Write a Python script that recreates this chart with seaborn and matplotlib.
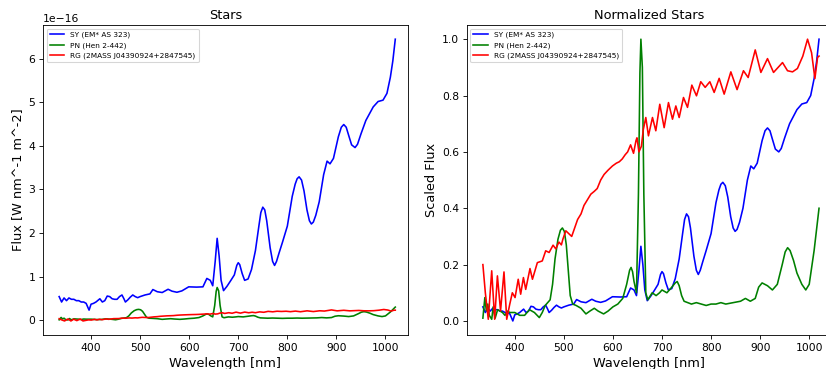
import numpy as np
import pandas as pd
import matplotlib
matplotlib.use("Agg")
import matplotlib.pyplot as plt
import seaborn as sns

# ---------------- data ----------------
labels = ["SY (EM* AS 323)", "PN (Hen 2-442)", "RG (2MASS J04390924+2847545)"]
colors = ["blue", "green", "red"]

# SY: wavelength [nm] and min-max scaled flux
sy_wl = [335, 340, 345, 350, 355, 360, 365, 370, 375, 380, 385, 390, 396, 400, 405, 410,
         418, 423, 428, 433, 438, 443, 448, 453, 458, 463, 467, 470, 475, 480, 485, 490,
         495, 500, 510, 520, 526, 535, 545, 557, 565, 575, 585, 599, 615, 628, 636, 643,
         648, 653, 657, 661, 665, 670, 677, 685, 692, 697, 700, 703, 708, 713, 720, 727, 735, 742,
         746, 750, 754, 758, 765, 770, 774, 778, 783, 790, 800, 810, 816, 820, 824, 829, 834, 840, 845, 849, 853, 858, 865, 874,
         881, 887, 894, 904, 910, 915, 920, 925, 931, 938, 943, 950, 960, 975, 985, 995, 1003, 1010, 1015, 1020]
sy_n = [0.050, 0.030, 0.045, 0.035, 0.045, 0.040, 0.040, 0.035, 0.035, 0.030, 0.030, 0.025, 0.000, 0.022, 0.025, 0.030,
        0.042, 0.030, 0.035, 0.052, 0.050, 0.042, 0.040, 0.040, 0.050, 0.056, 0.042, 0.030, 0.038, 0.048, 0.056, 0.050,
        0.046, 0.050, 0.056, 0.060, 0.076, 0.068, 0.065, 0.077, 0.070, 0.066, 0.071, 0.086, 0.085, 0.086, 0.117, 0.110,
        0.090, 0.180, 0.265, 0.200, 0.110, 0.072, 0.088, 0.110, 0.130, 0.165, 0.175, 0.168, 0.135, 0.110, 0.115, 0.150, 0.220, 0.310,
        0.360, 0.380, 0.370, 0.330, 0.230, 0.180, 0.165, 0.180, 0.210, 0.250, 0.310, 0.420, 0.465, 0.485, 0.492, 0.480, 0.440, 0.370, 0.330, 0.318, 0.325, 0.350, 0.400, 0.500,
        0.550, 0.540, 0.560, 0.640, 0.675, 0.685, 0.675, 0.645, 0.610, 0.600, 0.612, 0.650, 0.700, 0.750, 0.770, 0.775, 0.800, 0.860, 0.920, 1.000]

# PN: wavelength [nm] and min-max scaled flux
pn_wl = [335, 339, 342, 345, 348, 353, 356, 360, 365, 370, 375, 380, 385, 390, 400, 405,
         410, 420, 430, 440, 450, 456, 462, 467, 472, 477, 482, 488, 493, 497, 501, 505, 509, 513,
         518, 525, 535, 545, 553, 562, 570, 581, 590, 600, 610, 620, 628, 634, 637, 640, 643, 648,
         652, 655, 657, 660, 663, 667, 671, 680, 688, 695, 700, 710, 720, 727, 731, 735, 740, 745,
         760, 770, 780, 790, 800, 810, 820, 830, 845, 860, 870, 880, 890, 897, 904, 915,
         925, 935, 945, 951, 956, 961, 968, 975, 985, 993, 1000, 1010, 1020]
pn_n = [0.010, 0.083, 0.036, 0.060, 0.020, 0.006, 0.050, 0.010, 0.040, 0.035, 0.030, 0.020, 0.035, 0.030, 0.030, 0.025,
        0.020, 0.020, 0.040, 0.030, 0.012, 0.030, 0.055, 0.065, 0.075, 0.130, 0.220, 0.290, 0.322, 0.330, 0.318, 0.270, 0.180, 0.090,
        0.060, 0.055, 0.045, 0.025, 0.035, 0.045, 0.035, 0.025, 0.035, 0.050, 0.060, 0.080, 0.130, 0.180, 0.190, 0.175, 0.140, 0.100,
        0.450, 0.880, 1.000, 0.900, 0.450, 0.100, 0.075, 0.100, 0.090, 0.100, 0.110, 0.100, 0.120, 0.135, 0.140, 0.125, 0.090, 0.070,
        0.060, 0.065, 0.060, 0.055, 0.060, 0.060, 0.065, 0.060, 0.065, 0.070, 0.080, 0.070, 0.080, 0.120, 0.135, 0.125,
        0.110, 0.130, 0.200, 0.245, 0.260, 0.250, 0.215, 0.170, 0.130, 0.110, 0.130, 0.250, 0.400]

# RG: wavelength [nm] and min-max scaled flux
rg_wl = [335, 340, 346, 353, 359, 364.6, 371, 378, 383.6, 389.7, 395, 400.6, 407, 412, 417.6, 422.3,
         431, 436, 446, 456, 463, 470, 478, 483.5, 490, 495, 498, 504, 510, 516, 522, 528,
         535, 541, 548, 555, 562, 568, 575, 582, 590, 599, 607, 613, 619, 625, 630, 636,
         642, 647, 649, 653, 658, 662, 667, 672.4, 680.6, 687.4, 695.5, 704.4, 713.2, 721.4, 728.2, 735,
         743.8, 752, 760.8, 770.3, 779, 788, 797.5, 806.3, 816.5, 826.7, 840.3, 853, 866, 875.6, 890, 901.5,
         915, 927.3, 945.6, 955.8, 966, 976, 987, 996.6, 1004.8, 1011.6, 1017, 1020]
rg_n = [0.200, 0.100, 0.006, 0.178, 0.006, 0.160, 0.036, 0.174, 0.006, 0.059, 0.100, 0.083, 0.148, 0.095, 0.154, 0.112,
        0.186, 0.148, 0.207, 0.213, 0.249, 0.243, 0.269, 0.256, 0.280, 0.270, 0.290, 0.320, 0.310, 0.300, 0.330, 0.360,
        0.380, 0.410, 0.430, 0.450, 0.460, 0.470, 0.500, 0.520, 0.535, 0.550, 0.560, 0.565, 0.575, 0.590, 0.600, 0.625,
        0.595, 0.640, 0.650, 0.600, 0.620, 0.680, 0.722, 0.657, 0.722, 0.675, 0.769, 0.686, 0.775, 0.716, 0.763, 0.722,
        0.793, 0.758, 0.837, 0.799, 0.849, 0.829, 0.849, 0.811, 0.861, 0.805, 0.884, 0.821, 0.888, 0.864, 0.962, 0.882,
        0.931, 0.882, 0.917, 0.888, 0.884, 0.896, 0.940, 1.000, 0.952, 0.860, 0.935, 0.940]

# raw flux range of each series [W nm^-1 m^-2] (min, max)
sy_range = (0.23e-16, 6.45e-16)
pn_range = (0.00e-16, 0.75e-16)
rg_range = (-0.02e-16, 0.245e-16)

series = [(sy_wl, sy_n, sy_range), (pn_wl, pn_n, pn_range), (rg_wl, rg_n, rg_range)]

# ---------------- figure ----------------
DPI = 77
fig = plt.figure(figsize=(826 / DPI, 369 / DPI), dpi=DPI)
ax1 = fig.add_axes([0.052, 0.092, 0.442, 0.840])
ax2 = fig.add_axes([0.565, 0.092, 0.442, 0.840])

for (wl, n, (lo, hi)), lab, col in zip(series, labels, colors):
    df = pd.DataFrame({"wl": wl, "norm": n})
    df["flux"] = lo + df["norm"] * (hi - lo)
    sns.lineplot(data=df, x="wl", y="flux", ax=ax1, color=col, label=lab,
                 sort=False, estimator=None, linewidth=1.5)
    sns.lineplot(data=df, x="wl", y="norm", ax=ax2, color=col, label=lab,
                 sort=False, estimator=None, linewidth=1.5)

ax1.set_title("Stars")
ax1.set_xlabel("Wavelength [nm]", fontsize=12)
ax1.set_ylabel("Flux [W nm^-1 m^-2]", fontsize=12)
ax2.set_title("Normalized Stars")
ax2.set_xlabel("Wavelength [nm]", fontsize=12)
ax2.set_ylabel("Scaled Flux", fontsize=12)

for ax in (ax1, ax2):
    ax.set_xlim(302, 1046)
    ax.set_xticks([400, 500, 600, 700, 800, 900, 1000])
    ax.legend(loc="upper left", fontsize="x-small")

ax2.set_yticks([0.0, 0.2, 0.4, 0.6, 0.8, 1.0])

fig.savefig("out.png", dpi=DPI)
